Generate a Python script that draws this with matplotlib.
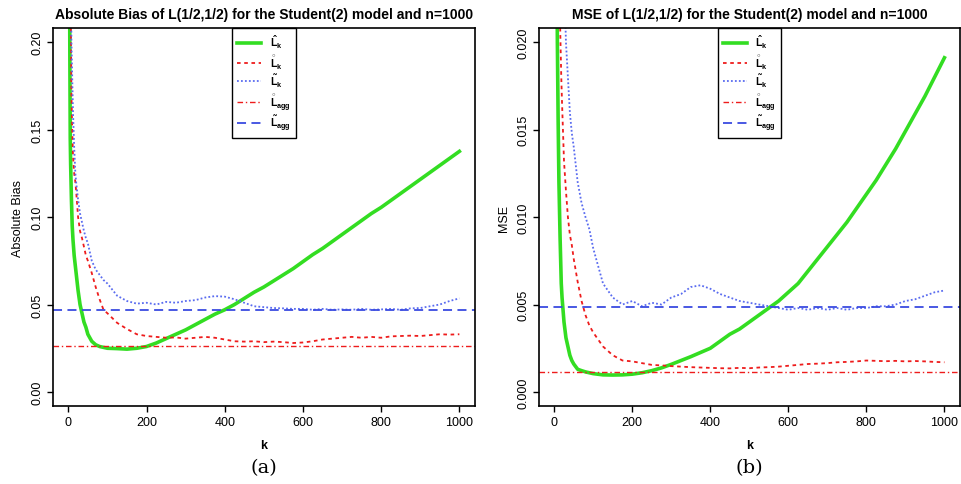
import matplotlib
matplotlib.use('Agg')
import matplotlib.pyplot as plt
import numpy as np

# k grid (shared by all curves)
k = [1, 2, 3, 4, 5, 6, 8, 10, 12, 15, 18, 20, 25, 30, 35, 40, 45, 50, 60, 70, 80, 90, 100,
     125, 150, 175, 200, 225, 250, 275, 300, 325, 350, 375, 400, 425, 450, 475, 500,
     525, 550, 575, 600, 625, 650, 675, 700, 725, 750, 775, 800, 825, 850, 875, 900,
     925, 950, 975, 1000]

# absolute bias
bias_hat = [0.60, 0.40, 0.25, 0.19, 0.145, 0.13, 0.11, 0.095, 0.087, 0.078, 0.072, 0.068, 0.058,
            0.050, 0.045, 0.040, 0.037, 0.033, 0.029, 0.027, 0.026, 0.0255, 0.025,
            0.0248, 0.0245, 0.025, 0.026, 0.028, 0.0305, 0.033, 0.0355, 0.0385, 0.0415, 0.0445,
            0.047, 0.050, 0.0535, 0.057, 0.060, 0.0635, 0.067, 0.0705, 0.0745, 0.0785, 0.082,
            0.086, 0.090, 0.094, 0.098, 0.102, 0.1055, 0.1095, 0.1135, 0.1175, 0.1215, 0.1255,
            0.1295, 0.1335, 0.1375]
bias_ring = [0.9, 0.6, 0.45, 0.35, 0.26, 0.22, 0.17, 0.15, 0.135, 0.125, 0.12, 0.115, 0.100,
             0.092, 0.088, 0.083, 0.078, 0.075, 0.068, 0.060, 0.053, 0.047, 0.045,
             0.0395, 0.036, 0.033, 0.032, 0.0315, 0.031, 0.0312, 0.0305, 0.031, 0.0315, 0.031,
             0.030, 0.029, 0.0288, 0.029, 0.0285, 0.0288, 0.0285, 0.028, 0.0283, 0.029, 0.030,
             0.0305, 0.031, 0.0315, 0.031, 0.0315, 0.031, 0.0318, 0.032, 0.0322, 0.032, 0.0325,
             0.033, 0.0328, 0.033]
bias_tilde = [1.2, 0.8, 0.5, 0.38, 0.30, 0.26, 0.20, 0.18, 0.16, 0.14, 0.125, 0.12, 0.11,
              0.102, 0.097, 0.092, 0.088, 0.085, 0.075, 0.070, 0.067, 0.064, 0.062,
              0.055, 0.052, 0.0505, 0.051, 0.050, 0.0515, 0.051, 0.052, 0.0525, 0.054, 0.0548,
              0.0545, 0.053, 0.051, 0.049, 0.0485, 0.048, 0.0478, 0.0475, 0.0475, 0.047, 0.0475,
              0.047, 0.0472, 0.047, 0.0475, 0.047, 0.0472, 0.0475, 0.047, 0.0478, 0.048, 0.049,
              0.050, 0.052, 0.0535]
bias_ring_agg = 0.0265
bias_tilde_agg = 0.047

# MSE
mse_hat = [0.2, 0.1, 0.06, 0.045, 0.035, 0.028, 0.020, 0.0155, 0.012, 0.0088, 0.0062, 0.0054,
           0.0040, 0.0031, 0.0026, 0.0021, 0.0018, 0.0016, 0.0013, 0.00122, 0.00115, 0.0011,
           0.00105, 0.00098, 0.00097, 0.00098, 0.00102, 0.0011, 0.00122, 0.00138, 0.00158,
           0.0018, 0.00202, 0.00226, 0.0025, 0.0029, 0.0033, 0.0036, 0.0040, 0.0044, 0.0048,
           0.0052, 0.0057, 0.0062, 0.0069, 0.0076, 0.0083, 0.0090, 0.0097, 0.0105, 0.0113,
           0.0121, 0.0130, 0.0139, 0.0149, 0.0159, 0.0169, 0.0180, 0.0191]
mse_ring = [0.5, 0.3, 0.2, 0.12, 0.09, 0.07, 0.05, 0.04, 0.032, 0.021, 0.018, 0.0165, 0.0132,
            0.0115, 0.0100, 0.0090, 0.0084, 0.0076, 0.0063, 0.0052, 0.0044, 0.0038, 0.0034,
            0.0026, 0.0021, 0.0018, 0.00175, 0.00165, 0.00155, 0.00152, 0.00148, 0.00145,
            0.00142, 0.0014, 0.00138, 0.00136, 0.00135, 0.00138, 0.00136, 0.0014, 0.00142,
            0.00145, 0.0015, 0.00155, 0.0016, 0.00162, 0.00165, 0.0017, 0.00172, 0.00175,
            0.0018, 0.00178, 0.00176, 0.00178, 0.00175, 0.00177, 0.00175, 0.00172, 0.0017]
mse_tilde = [0.8, 0.5, 0.3, 0.2, 0.15, 0.12, 0.09, 0.07, 0.055, 0.045, 0.036, 0.031, 0.024,
             0.020, 0.018, 0.016, 0.0148, 0.0140, 0.0120, 0.0108, 0.0100, 0.0093, 0.0082,
             0.0062, 0.0054, 0.0050, 0.0052, 0.0049, 0.0051, 0.0050, 0.0054, 0.0056, 0.0060,
             0.0061, 0.0059, 0.0056, 0.0054, 0.0052, 0.0051, 0.0050, 0.0049, 0.0048, 0.0047,
             0.0048, 0.0047, 0.0048, 0.0047, 0.0048, 0.0047, 0.0048, 0.0048, 0.0049, 0.0049,
             0.0050, 0.0052, 0.0053, 0.0055, 0.0057, 0.0058]
mse_ring_agg = 0.00113
mse_tilde_agg = 0.00485

labels = [r'$\hat{L}_k$', r'$\overset{\circ}{L}_k$', r'$\tilde{L}_k$',
          r'$\overset{\circ}{L}_{agg}$', r'$\tilde{L}_{agg}$']

plt.rcParams['font.family'] = ['Liberation Sans', 'DejaVu Sans']
plt.rcParams['mathtext.fontset'] = 'custom'
plt.rcParams['mathtext.rm'] = 'Liberation Sans:bold'
plt.rcParams['mathtext.it'] = 'Liberation Sans:bold'
plt.rcParams['mathtext.bf'] = 'Liberation Sans:bold'

GREEN = '#33dd22'
RED = '#ee1c1c'
BLUE = '#3a4be0'
BLUE_DOT = '#5a6cf0'

fig = plt.figure(figsize=(9.61, 4.85), dpi=100)
ax1 = fig.add_axes([0.0552, 0.1608, 0.4391, 0.7794])
ax2 = fig.add_axes([0.5609, 0.1608, 0.4381, 0.7794])


def panel(ax, hat, ring, tilde, ring_agg, tilde_agg, ylim, yticks, yfmt, title, ylabel):
    ax.plot(k, hat, color=GREEN, lw=2.6, label=labels[0])
    ax.plot(k, ring, color=RED, lw=1.3, linestyle=(0, (2, 2)), label=labels[1])
    ax.plot(k, tilde, color=BLUE_DOT, lw=1.3, linestyle=(0, (1, 1.2)), label=labels[2])
    ax.axhline(ring_agg, color=RED, lw=1.0, linestyle=(0, (4, 2, 1, 2)), label=labels[3])
    ax.axhline(tilde_agg, color=BLUE, lw=1.3, linestyle=(0, (5, 3)), label=labels[4])
    ax.set_xlim(-39, 1040)
    pad = (ylim[1] - ylim[0]) * 0.04
    ax.set_ylim(ylim[0] - pad, ylim[1] + pad)
    ax.set_xticks([0, 200, 400, 600, 800, 1000])
    ax.set_yticks(yticks)
    ax.set_yticklabels([yfmt % v for v in yticks], rotation=90, va='center')
    ax.tick_params(direction='out', length=4, width=1, labelsize=9, pad=3)
    for s in ax.spines.values():
        s.set_linewidth(1.2)
    ax.set_title(title, fontsize=10, fontweight='bold', pad=7)
    ax.set_xlabel('k', fontsize=9, fontweight='bold', labelpad=8)
    ax.set_ylabel(ylabel, fontsize=9, labelpad=5)
    leg = ax.legend(loc='upper center', fontsize=7.5, borderaxespad=0, handlelength=2.3,
                    labelspacing=0.1, fancybox=False, framealpha=1, edgecolor='black',
                    borderpad=0.5, handletextpad=0.8)
    leg.get_frame().set_linewidth(1.0)


panel(ax1, bias_hat, bias_ring, bias_tilde, bias_ring_agg, bias_tilde_agg,
      (0, 0.2), [0, 0.05, 0.10, 0.15, 0.20], '%.2f',
      'Absolute Bias of L(1/2,1/2) for the Student(2) model and n=1000', 'Absolute Bias')
panel(ax2, mse_hat, mse_ring, mse_tilde, mse_ring_agg, mse_tilde_agg,
      (0, 0.02), [0, 0.005, 0.010, 0.015, 0.020], '%.3f',
      'MSE of L(1/2,1/2) for the Student(2) model and n=1000', 'MSE')

fig.text(0.2747, 0.035, '(a)', ha='center', va='center', fontsize=14, family='DejaVu Serif')
fig.text(0.7794, 0.035, '(b)', ha='center', va='center', fontsize=14, family='DejaVu Serif')

fig.savefig('out.png', dpi=100)
